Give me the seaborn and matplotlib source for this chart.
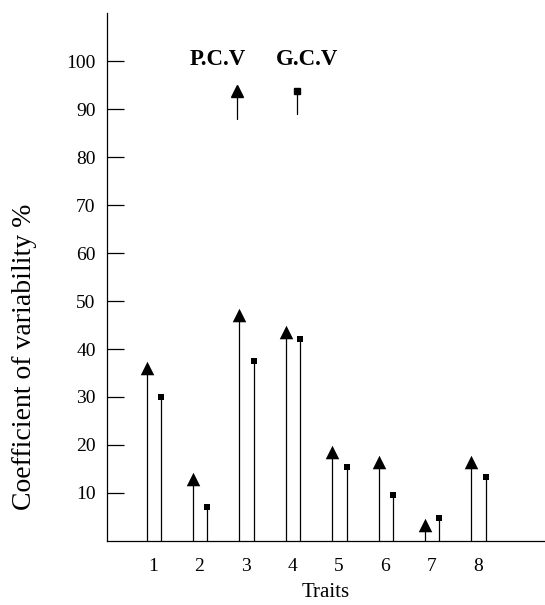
import pandas as pd
import matplotlib.pyplot as plt
import seaborn as sns

traits = [1, 2, 3, 4, 5, 6, 7, 8]
pcv = [36, 13, 47, 43.5, 18.5, 16.5, 3.3, 16.5]
gcv = [30, 7, 37.5, 42, 15.5, 9.5, 4.8, 13.3]

df = pd.DataFrame({
    "Traits": traits * 2,
    "Medida": ["P.C.V"] * len(traits) + ["G.C.V"] * len(traits),
    "Valor": pcv + gcv,
})
desplaz = {"P.C.V": -0.14, "G.C.V": 0.17}
df["x"] = df["Traits"] + df["Medida"].map(desplaz)

sns.set_style("ticks")
plt.rcParams["font.family"] = ["Liberation Serif", "DejaVu Serif"]
for clave in ["text.color", "axes.labelcolor", "xtick.color", "ytick.color", "axes.edgecolor"]:
    plt.rcParams[clave] = "black"

fig = plt.figure(figsize=(5.45, 6.05), dpi=100)
ax = fig.add_axes([0.196, 0.106, 0.804, 0.872])

# Tallos
ax.vlines(df["x"], 0, df["Valor"], color="black", linewidth=0.9)
estilos = {"P.C.V": ("^", 95), "G.C.V": ("s", 22)}
for medida, (marca, tam) in estilos.items():
    sns.scatterplot(data=df[df["Medida"] == medida], x="x", y="Valor",
                    marker=marca, s=tam, color="black", edgecolor="black",
                    linewidth=0, legend=False, ax=ax, zorder=3)

ax.set_xlim(0, 9.45)
ax.set_ylim(0, 110)
ax.set_yticks(range(10, 101, 10))
ax.set_xticks(traits)
ax.tick_params(axis="y", direction="in", length=12, width=0.9, labelsize=14, pad=8)
ax.tick_params(axis="x", length=0, labelsize=14, pad=12)
sns.despine(ax=ax)
ax.spines["left"].set_linewidth(0.9)
ax.spines["bottom"].set_linewidth(0.9)

ax.set_xlabel("Traits", fontsize=15, labelpad=6)
ax.set_ylabel("Coefficient of variability %", fontsize=20)
ax.yaxis.set_label_coords(-0.16, 0.348)

# Leyenda dibujada a mano
ax.text(0.19, 0.912, "P.C.V", transform=ax.transAxes, fontsize=16.5,
        fontweight="bold", ha="left", va="center")
ax.text(0.385, 0.912, "G.C.V", transform=ax.transAxes, fontsize=16.5,
        fontweight="bold", ha="left", va="center")
ax.plot([0.297, 0.297], [0.800, 0.845], transform=ax.transAxes, color="black", lw=0.9)
ax.plot([0.297], [0.852], transform=ax.transAxes, marker="^", ms=9, color="black")
ax.plot([0.433, 0.433], [0.810, 0.850], transform=ax.transAxes, color="black", lw=0.9)
ax.plot([0.433], [0.853], transform=ax.transAxes, marker="s", ms=4, color="black")

plt.savefig("out.png", dpi=100)
